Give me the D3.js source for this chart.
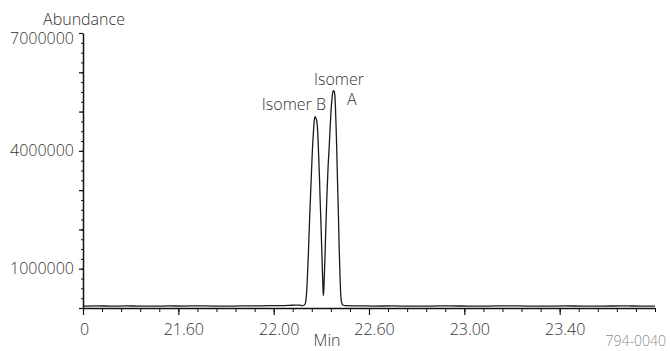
<!DOCTYPE html>
<html>
<head>
<meta charset="utf-8">
<script src="https://cdn.jsdelivr.net/npm/d3@7"></script>
<style>
  body { margin: 0; background: #fff; }
  svg { display: block; font-family: "Open Sans", "Liberation Sans", sans-serif; font-weight: 300; }
  .axis path, .axis line { stroke: #111; }
  .axis text { fill: #333; font-size: 16px; font-family: "Open Sans", sans-serif; font-weight: 300; }
</style>
</head>
<body>
<svg width="670" height="351"></svg>
<script>
// retention time (min) and abundance
let times = [21.20, 21.26, 21.32, 21.38, 21.44, 21.50, 21.56, 21.62, 21.68, 21.74,
  21.80, 21.86, 21.92, 21.98, 22.04, 22.08, 22.11, 22.120, 22.127, 22.132,
  22.137, 22.141, 22.146, 22.151, 22.157, 22.162, 22.167, 22.171, 22.174, 22.178,
  22.181, 22.185, 22.188, 22.192, 22.195, 22.199, 22.202, 22.205, 22.208, 22.209,
  22.211, 22.214, 22.218, 22.223, 22.228, 22.233, 22.237, 22.241, 22.245, 22.249,
  22.252, 22.256, 22.259, 22.262, 22.265, 22.268, 22.272, 22.275, 22.279, 22.282,
  22.286, 22.292, 22.30, 22.36, 22.42, 22.50, 22.58, 22.66, 22.74, 22.82,
  22.90, 22.98, 23.06, 23.14, 23.22, 23.30, 23.38, 23.46, 23.54, 23.60];

let abundance = [50000, 55000, 48000, 52000, 50000, 46000, 53000, 49000, 55000, 50000,
  47000, 52000, 55000, 58000, 62000, 70000, 75000, 60000, 70000, 100000,
  300000, 700000, 1450000, 2300000, 3200000, 3950000, 4500000, 4800000, 4870000, 4820000,
  4760000, 4450000, 4000000, 3350000, 2750000, 2050000, 1450000, 850000, 380000, 320000,
  550000, 1050000, 1850000, 2800000, 3550000, 4100000, 4600000, 5050000, 5350000, 5520000,
  5530000, 5450000, 5150000, 4600000, 3950000, 3200000, 2300000, 1500000, 700000, 300000,
  120000, 70000, 60000, 55000, 50000, 52000, 47000, 50000, 53000, 48000,
  50000, 55000, 50000, 46000, 52000, 50000, 48000, 53000, 50000, 50000];

// x ticks as printed on the original figure
let xTickValues = [21.2, 21.6, 22.0, 22.4, 22.8, 23.2];
let xTickLabels = ["0", "21.60", "22.00", "22.60", "23.00", "23.40"];

let yTickValues = [1000000, 4000000, 7000000];
let yTickLabels = ["1000000", "4000000", "7000000"];

let svg = d3.select("svg");

let x = d3.scaleLinear().domain([21.2, 23.6]).range([83, 655]);
let y = d3.scaleLinear().domain([0, 7000000]).range([308, 33]);

// minor x ticks
svg.append("g")
    .attr("class", "axis")
    .attr("transform", "translate(0,308)")
    .call(d3.axisBottom(x).tickValues(d3.range(0, 31).map(i => 21.2 + i * 0.08))
      .tickSize(4).tickFormat(""))
    .call(g => g.select(".domain").remove())
    .selectAll("line").attr("stroke-width", 1);

// major x ticks + labels
svg.append("g")
    .attr("class", "axis")
    .attr("transform", "translate(0,308)")
    .call(d3.axisBottom(x).tickValues(xTickValues).tickSizeInner(7).tickSizeOuter(0)
      .tickPadding(9).tickFormat((d, i) => xTickLabels[i]))
    .call(g => g.select(".domain").attr("stroke-width", 1.5))
    .call(g => g.selectAll("line").attr("stroke-width", 1.2))
    .call(g => g.selectAll("text").attr("dx", (d, i) => i === 0 ? 1 : 5));

// minor y ticks
svg.append("g")
    .attr("class", "axis")
    .attr("transform", "translate(83,0)")
    .call(d3.axisLeft(y).tickValues(d3.range(0, 29).map(i => i * 250000))
      .tickSize(2).tickFormat(""))
    .call(g => g.select(".domain").remove())
    .selectAll("line").attr("stroke-width", 1);

// major y ticks
svg.append("g")
    .attr("class", "axis")
    .attr("transform", "translate(83,0)")
    .call(d3.axisLeft(y).tickValues(d3.range(0, 8).map(i => i * 1000000))
      .tickSizeInner(4).tickSizeOuter(0).tickFormat(""))
    .call(g => g.select(".domain").attr("stroke-width", 1.5))
    .call(g => g.selectAll("line").attr("stroke-width", 1.2));

// y labels
svg.append("g")
    .attr("class", "axis")
  .selectAll("text")
  .data(yTickValues)
  .enter().append("text")
    .attr("x", 74)
    .attr("y", d => y(d))
    .attr("dy", d => d === 7000000 ? "0.7em" : "0.35em")
    .attr("text-anchor", "end")
    .text((d, i) => yTickLabels[i]);

// chromatogram trace
let line = d3.line()
    .x((d, i) => x(times[i]))
    .y(d => y(d))
    .curve(d3.curveMonotoneX);

svg.append("path")
    .datum(abundance)
    .attr("fill", "none")
    .attr("stroke", "#1a1a1a")
    .attr("stroke-width", 1.3)
    .attr("d", line);

// titles and annotations
let txt = (s, px, py, anchor, size, color) => svg.append("text")
    .attr("x", px).attr("y", py)
    .attr("text-anchor", anchor)
    .attr("font-size", size)
    .attr("fill", color || "#333")
    .text(s);

txt("Abundance", 84, 25, "middle", 16);
txt("Min", 327, 346, "middle", 16);
txt("794-0040", 666, 346, "end", 14, "#8c8c8c");
txt("Isomer B", 326, 110, "end", 16);
txt("Isomer", 314, 85, "start", 16);
txt("A", 347, 105, "start", 16);
</script>
</body>
</html>
